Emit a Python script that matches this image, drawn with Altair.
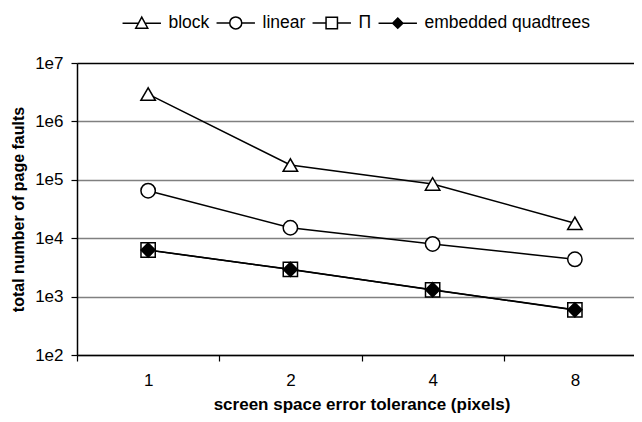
import altair as alt
import pandas as pd

tolerance = ["1", "2", "4", "8"]
series_names = ["block", "linear", "Π", "embedded quadtrees"]
block = [2.94e6, 1.79e5, 8.5e4, 1.8e4]
linear = [6.5e4, 1.51e4, 7.96e3, 4.35e3]
pi = [6.28e3, 2.93e3, 1.30e3, 5.9e2]
embedded = [6.25e3, 2.92e3, 1.31e3, 5.95e2]

y_ticks = [1e2, 1e3, 1e4, 1e5, 1e6, 1e7]

rows = []
for name, vals in zip(series_names, [block, linear, pi, embedded]):
    for t, v in zip(tolerance, vals):
        rows.append({"tolerance": t, "faults": v, "series": name})
df = pd.DataFrame(rows)

FONT = "Liberation Sans"

x_enc = alt.X(
    "tolerance:N",
    sort=tolerance,
    scale=alt.Scale(type="band", paddingInner=0, paddingOuter=0, range=[0, 569]),
    axis=alt.Axis(
        title="screen space error tolerance (pixels)",
        titleFontSize=17, titleFontWeight="bold", titleFont=FONT, titleColor="black",
        titlePadding=8,
        labelFontSize=17, labelFont=FONT, labelColor="black", labelAngle=0,
        labelPadding=11,
        tickBand="extent", tickSize=6, tickColor="black", tickWidth=1.2,
        domainColor="black", domainWidth=1.5, grid=False,
    ),
)
y_enc = alt.Y(
    "faults:Q",
    scale=alt.Scale(type="log", domain=[1e2, 1e7], nice=False),
    axis=alt.Axis(
        values=y_ticks,
        labelExpr="'1e' + round(log(datum.value) / LN10)",
        title="total number of page faults",
        titleFontSize=16, titleFontWeight="bold", titleFont=FONT, titleColor="black",
        titlePadding=8,
        labelFontSize=17, labelFont=FONT, labelColor="black", labelPadding=8,
        tickSize=6, tickColor="black", tickWidth=1.2,
        domainColor="black", domainWidth=1.5,
        grid=True,
        gridColor={"condition": {"test": "datum.value >= 9999999", "value": "black"}, "value": "#808080"},
        gridWidth=1.5,
    ),
)

base = alt.Chart(df)

lines = base.mark_line(color="black", strokeWidth=1.5).encode(
    x=x_enc, y=y_enc, detail="series:N"
)

points = base.mark_point(stroke="black", strokeWidth=1.5, opacity=1).encode(
    x=x_enc,
    y=y_enc,
    shape=alt.Shape("series:N", scale=alt.Scale(domain=series_names,
                    range=["triangle-up", "circle", "square", "diamond"]), legend=None),
    fill=alt.Fill("series:N", scale=alt.Scale(domain=series_names,
                  range=["white", "white", "white", "black"]), legend=None),
    size=alt.Size("series:N", scale=alt.Scale(domain=series_names,
                  range=[210, 200, 180, 110]), legend=None),
)

legend_paths = [
    "M-3.2,0H-0.5M0.5,0H3.2M0,-1L1,0.85L-1,0.85Z",
    "M-3.2,0H-1M1,0H3.2M1,0A1,1,0,1,1,-1,0A1,1,0,1,1,1,0Z",
    "M-3.2,0H-0.95M0.95,0H3.2M-0.95,-0.95H0.95V0.95H-0.95Z",
    "M-3.2,0H3.2M0,-0.85L0.85,0L0,0.85L-0.85,0Z",
]
leg = alt.Legend(
    title=None, orient="none", direction="horizontal",
    legendX=56, legendY=-49,
    labelFont=FONT, labelFontSize=17.5, labelColor="black",
    labelOffset=18, columnPadding=3, labelLimit=300,
    symbolSize=144, symbolStrokeWidth=1.5,
    symbolOpacity=1, padding=0,
)
legend_layer = base.transform_calculate(lseries="datum.series").mark_point(
    opacity=0, strokeWidth=1.5
).encode(
    x=x_enc,
    y=y_enc,
    shape=alt.Shape("lseries:N", scale=alt.Scale(domain=series_names, range=legend_paths), legend=leg),
    fill=alt.Fill("lseries:N", scale=alt.Scale(domain=series_names,
                  range=["white", "white", "white", "black"]), legend=leg),
    stroke=alt.Stroke("lseries:N", scale=alt.Scale(domain=series_names,
                      range=["black", "black", "black", "black"]), legend=leg),
)

chart = alt.layer(lines, points, legend_layer).resolve_scale(
    shape="independent", fill="independent", size="independent", stroke="independent"
).resolve_legend(
    shape="independent", fill="independent", stroke="independent"
).properties(
    width=557, height=292,
    autosize=alt.AutoSizeParams(type="none"),
    padding={"left": 69, "top": 55, "right": 0, "bottom": 59},
).configure_view(stroke=None).configure(font=FONT)

chart.save("out.html", embed_options={"renderer": "svg", "actions": False})
